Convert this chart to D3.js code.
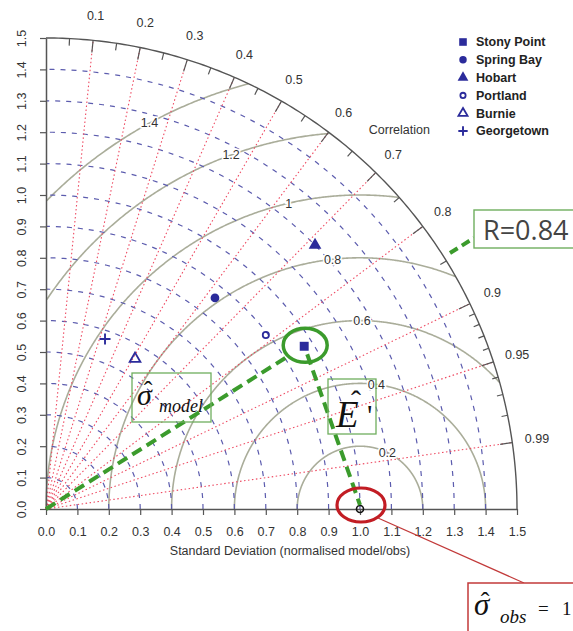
<!DOCTYPE html>
<html>
<head>
<meta charset="utf-8">
<script src="https://cdn.jsdelivr.net/npm/d3@7"></script>
<style>
  body { margin: 0; background: #fff; }
  svg { display: block; font-family: "Liberation Sans", Arial, sans-serif; }
</style>
</head>
<body>
<script>
// data
const sdTicks = [0.0, 0.1, 0.2, 0.3, 0.4, 0.5, 0.6, 0.7, 0.8, 0.9, 1.0, 1.1, 1.2, 1.3, 1.4, 1.5];
const sdArcs = [0.1, 0.2, 0.3, 0.4, 0.5, 0.6, 0.7, 0.8, 0.9, 1.0, 1.1, 1.2, 1.3, 1.4];
const corrMajor = [0.1, 0.2, 0.3, 0.4, 0.5, 0.6, 0.7, 0.8, 0.9, 0.95, 0.99];
const corrMedium = [0.05, 0.15, 0.25, 0.35, 0.45, 0.55, 0.65, 0.75, 0.85];
const corrMinor = [0.91, 0.92, 0.93, 0.94, 0.96, 0.97, 0.98];
const rmsLevels = [0.2, 0.4, 0.6, 0.8, 1.0, 1.2, 1.4];

const stations = ["Stony Point", "Spring Bay", "Hobart", "Portland", "Burnie", "Georgetown"];
const stationSd = [0.972, 0.861, 1.20, 0.893, 0.556, 0.573];
const stationCorr = [0.846, 0.625, 0.714, 0.784, 0.51, 0.328];
const obsSd = 1.0;
const highlightR = "R=0.84";

const width = 573, height = 631;
const maxSd = 1.5;
const ox = 46, oy = 509;

const x = d3.scaleLinear().domain([0, maxSd]).range([ox, ox + 471]);
const y = d3.scaleLinear().domain([0, maxSd]).range([oy, oy - 471]);

// polar helpers (sd, correlation) -> pixel
const px = (sd, c) => x(sd * c);
const py = (sd, c) => y(sd * Math.sin(Math.acos(c)));

const svg = d3.select("body").append("svg")
  .attr("width", width)
  .attr("height", height);

const line = d3.line().x(d => x(d[0])).y(d => y(d[1]));

// rms difference arcs centred on obs
rmsLevels.forEach(g => {
  const pts = [];
  for (let a = 0; a <= Math.PI + 1e-9; a += 0.004) {
    const xx = obsSd + g * Math.cos(a), yy = g * Math.sin(a);
    if (xx >= 0 && Math.hypot(xx, yy) <= maxSd) pts.push([xx, yy]);
  }
  svg.append("path")
    .attr("d", line(pts))
    .attr("fill", "none")
    .attr("stroke", "#aaad9a")
    .attr("stroke-width", 1.6);
});

// sd arcs (blue dashed)
sdArcs.forEach(s => {
  const pts = d3.range(0, 91).map(t => {
    const a = t / 90 * Math.PI / 2;
    return [s * Math.cos(a), s * Math.sin(a)];
  });
  svg.append("path")
    .attr("d", line(pts))
    .attr("fill", "none")
    .attr("stroke", "#5c5cae")
    .attr("stroke-width", 1.2)
    .attr("stroke-dasharray", "5,6");
});

// correlation rays
svg.selectAll(".ray")
  .data(corrMajor)
  .join("line")
  .attr("x1", x(0)).attr("y1", y(0))
  .attr("x2", d => px(maxSd, d))
  .attr("y2", d => py(maxSd, d))
  .attr("stroke", "#ee4a62")
  .attr("stroke-width", 1.1)
  .attr("stroke-dasharray", "1.5,2.5");

// outer arc
const outer = d3.range(0, 181).map(t => {
  const a = t / 180 * Math.PI / 2;
  return [maxSd * Math.cos(a), maxSd * Math.sin(a)];
});
svg.append("path")
  .attr("d", line(outer))
  .attr("fill", "none")
  .attr("stroke", "#555")
  .attr("stroke-width", 1.4);

// ticks on the arc
const arcTicks = [
  ...corrMajor.map(c => [c, 0.026]),
  ...corrMedium.map(c => [c, 0.015]),
  ...corrMinor.map(c => [c, 0.013])
];
svg.selectAll(".ctick")
  .data(arcTicks)
  .join("line")
  .attr("x1", d => px(maxSd, d[0]))
  .attr("y1", d => py(maxSd, d[0]))
  .attr("x2", d => px(maxSd * (1 - d[1]), d[0]))
  .attr("y2", d => py(maxSd * (1 - d[1]), d[0]))
  .attr("stroke", "#555")
  .attr("stroke-width", 1.2);

// correlation labels
svg.selectAll(".clab")
  .data(corrMajor)
  .join("text")
  .attr("x", d => px(maxSd * 1.053, d))
  .attr("y", d => py(maxSd * 1.053, d))
  .attr("dy", "0.35em")
  .attr("text-anchor", "middle")
  .attr("font-size", 12.5)
  .attr("fill", "#333")
  .text(d => d);

svg.append("text")
  .attr("x", px(maxSd * 1.1, Math.cos(47 * Math.PI / 180)))
  .attr("y", py(maxSd * 1.1, Math.cos(47 * Math.PI / 180)))
  .attr("dy", "0.35em")
  .attr("text-anchor", "middle")
  .attr("font-size", 12.5)
  .attr("fill", "#333")
  .text("Correlation");

// rms labels (positions along the curve, plotrix style; the smallest sits lower)
rmsLevels.forEach((g, i) => {
  const idx = Math.floor(45 + i * 25 / (rmsLevels.length - 1));
  const a = i === 0 ? 1.12 : (idx - 1) * 0.03;
  svg.append("text")
    .attr("x", x(obsSd + g * Math.cos(a)))
    .attr("y", y(g * Math.sin(a)))
    .attr("dy", "0.35em")
    .attr("text-anchor", "middle")
    .attr("font-size", 12.5)
    .attr("fill", "#333")
    .attr("stroke", "#fff")
    .attr("stroke-width", 3)
    .attr("paint-order", "stroke")
    .text(g === 1 ? "1" : g);
});

// axes
const xAxis = svg.append("g")
  .attr("transform", `translate(0,${oy})`)
  .call(d3.axisBottom(x).tickValues(sdTicks).tickFormat(d3.format(".1f")).tickSize(6).tickPadding(12).tickSizeOuter(0));
const yAxis = svg.append("g")
  .attr("transform", `translate(${ox},0)`)
  .call(d3.axisLeft(y).tickValues(sdTicks).tickFormat(d3.format(".1f")).tickSize(6).tickSizeOuter(0));

[xAxis, yAxis].forEach(g => {
  g.select(".domain").attr("stroke", "#555").attr("stroke-width", 1.5);
  g.selectAll(".tick line").attr("stroke", "#555").attr("stroke-width", 1.2);
  g.selectAll(".tick text").attr("fill", "#333").attr("font-size", 12.5)
    .attr("font-family", "Liberation Sans, Arial, sans-serif");
});
yAxis.selectAll(".tick text")
  .attr("transform", "rotate(-90)")
  .attr("x", 0)
  .attr("y", -20)
  .attr("dy", 0)
  .attr("text-anchor", "middle");

svg.append("text")
  .attr("x", 290)
  .attr("y", 555)
  .attr("text-anchor", "middle")
  .attr("font-size", 12.5)
  .attr("fill", "#333")
  .text("Standard Deviation (normalised model/obs)");

// station markers
const navy = "#2b2b9b";
const shapes = [
  { t: d3.symbolSquare, s: 80, fill: true },
  { t: d3.symbolCircle, s: 60, fill: true },
  { t: d3.symbolTriangle, s: 70, fill: true },
  { t: d3.symbolCircle, s: 30, fill: false },
  { t: d3.symbolTriangle, s: 50, fill: false },
  { t: null, s: 5.5, fill: false }
];
function drawMarker(g, k, scale) {
  const sh = shapes[k];
  if (sh.t === null) {
    const h = sh.s * scale;
    g.append("path").attr("d", `M${-h},0H${h}M0,${-h}V${h}`)
      .attr("stroke", navy).attr("stroke-width", 1.9).attr("fill", "none");
  } else {
    g.append("path").attr("d", d3.symbol(sh.t, sh.s * scale * scale)())
      .attr("fill", sh.fill ? navy : "none")
      .attr("stroke", navy)
      .attr("stroke-width", sh.fill ? 0 : 1.8);
  }
}
stations.forEach((name, i) => {
  const g = svg.append("g")
    .attr("transform", `translate(${px(stationSd[i], stationCorr[i])},${py(stationSd[i], stationCorr[i])})`);
  drawMarker(g, i, 1);
});

// obs point
svg.append("circle")
  .attr("cx", x(obsSd)).attr("cy", y(0)).attr("r", 3.5)
  .attr("fill", "none").attr("stroke", "#111").attr("stroke-width", 1.6);

// legend
const legend = svg.append("g").attr("transform", "translate(463,42)");
stations.forEach((name, i) => {
  const g = legend.append("g").attr("transform", `translate(0,${i * 17.8})`);
  drawMarker(g, i, 0.85);
  g.append("text")
    .attr("x", 13).attr("y", 0).attr("dy", "0.35em")
    .attr("font-size", 12.5).attr("font-weight", "bold").attr("fill", "#222")
    .text(name);
});

// annotations
const green = "#3b9b2c";
const sp = [px(stationSd[0], stationCorr[0]), py(stationSd[0], stationCorr[0])];
const ob = [x(obsSd), y(0)];

svg.append("line")
  .attr("x1", x(0)).attr("y1", y(0))
  .attr("x2", sp[0] - 17).attr("y2", sp[1] + 10.5)
  .attr("stroke", green).attr("stroke-width", 4).attr("stroke-dasharray", "11,6");
svg.append("line")
  .attr("x1", sp[0] + 3).attr("y1", sp[1] + 8)
  .attr("x2", ob[0]).attr("y2", ob[1] - 4)
  .attr("stroke", green).attr("stroke-width", 4).attr("stroke-dasharray", "11,6");
svg.append("ellipse")
  .attr("cx", sp[0] + 1).attr("cy", sp[1] - 1).attr("rx", 22).attr("ry", 17)
  .attr("fill", "none").attr("stroke", green).attr("stroke-width", 3.5);

// R leader + box
svg.append("line")
  .attr("x1", 450).attr("y1", 253).attr("x2", 474).attr("y2", 238)
  .attr("stroke", green).attr("stroke-width", 4).attr("stroke-dasharray", "9,5");
svg.append("rect")
  .attr("x", 474).attr("y", 210).attr("width", 110).attr("height", 38)
  .attr("fill", "#fff").attr("stroke", "#6fae5e").attr("stroke-width", 1.4);
svg.append("text")
  .attr("x", 483).attr("y", 240)
  .attr("font-family", "Open Sans, DejaVu Sans, sans-serif")
  .attr("font-size", 27).attr("fill", "#444")
  .text(highlightR);

// sigma model box
svg.append("rect")
  .attr("x", 132).attr("y", 373).attr("width", 79).attr("height", 49)
  .attr("fill", "none").attr("stroke", "#6fae5e").attr("stroke-width", 1.3);
const serif = "Liberation Serif, Times New Roman, serif";
svg.append("text").attr("x", 137).attr("y", 405)
  .attr("font-family", serif).attr("font-style", "italic").attr("font-size", 30).attr("fill", "#111")
  .text("σ");
svg.append("text").attr("x", 148).attr("y", 399).attr("text-anchor", "middle")
  .attr("font-family", serif).attr("font-size", 26).attr("fill", "#111")
  .text("ˆ");
svg.append("text").attr("x", 159).attr("y", 412)
  .attr("font-family", serif).attr("font-style", "italic").attr("font-size", 18).attr("fill", "#111")
  .text("model");

// E' box
svg.append("rect")
  .attr("x", 328).attr("y", 379).attr("width", 48).attr("height", 55)
  .attr("fill", "none").attr("stroke", "#6fae5e").attr("stroke-width", 1.3);
svg.append("text").attr("x", 336).attr("y", 427)
  .attr("font-family", serif).attr("font-style", "italic").attr("font-size", 37).attr("fill", "#111")
  .text("E");
svg.append("text").attr("x", 356).attr("y", 411).attr("text-anchor", "middle")
  .attr("font-family", serif).attr("font-size", 30).attr("fill", "#111")
  .text("ˆ");
svg.append("text").attr("x", 367).attr("y", 425)
  .attr("font-family", serif).attr("font-size", 30).attr("fill", "#111")
  .text("'");

// obs ellipse + leader + box
const red = "#c21d24";
svg.append("ellipse")
  .attr("cx", ob[0] + 1).attr("cy", ob[1] - 4).attr("rx", 24).attr("ry", 17)
  .attr("fill", "none").attr("stroke", red).attr("stroke-width", 3.2);
svg.append("line")
  .attr("x1", 378).attr("y1", 518).attr("x2", 524).attr("y2", 583)
  .attr("stroke", "#c23a3a").attr("stroke-width", 1.3);
svg.append("rect")
  .attr("x", 468).attr("y", 583).attr("width", 120).attr("height", 60)
  .attr("fill", "#fff").attr("stroke", "#c23a3a").attr("stroke-width", 1.5);
svg.append("text").attr("x", 474).attr("y", 615)
  .attr("font-family", serif).attr("font-style", "italic").attr("font-size", 31).attr("fill", "#111")
  .text("σ");
svg.append("text").attr("x", 485).attr("y", 610).attr("text-anchor", "middle")
  .attr("font-family", serif).attr("font-size", 26).attr("fill", "#111")
  .text("ˆ");
svg.append("text").attr("x", 500).attr("y", 623)
  .attr("font-family", serif).attr("font-style", "italic").attr("font-size", 19).attr("fill", "#111")
  .text("obs");
svg.append("text").attr("x", 538).attr("y", 615)
  .attr("font-family", serif).attr("font-size", 19).attr("fill", "#111")
  .text("=");
svg.append("text").attr("x", 562).attr("y", 615)
  .attr("font-family", serif).attr("font-size", 19).attr("fill", "#111")
  .text("1");
</script>
</body>
</html>
